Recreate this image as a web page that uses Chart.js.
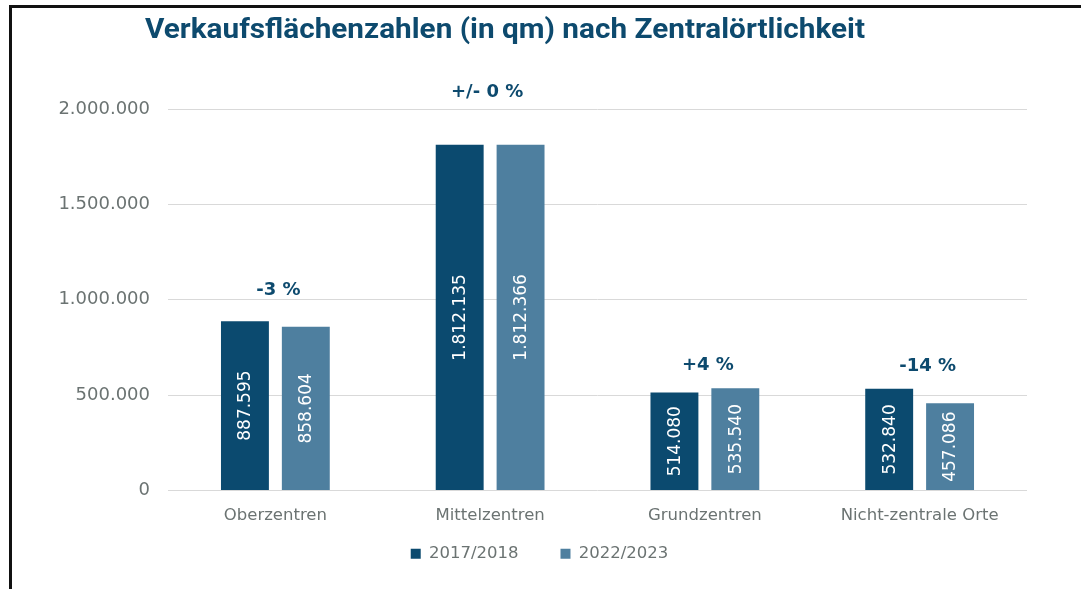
<!DOCTYPE html>
<html lang="de">
<head>
<meta charset="utf-8">
<title>Verkaufsflächenzahlen nach Zentralörtlichkeit</title>
<script src="https://cdn.jsdelivr.net/npm/chart.js@4/dist/chart.umd.min.js"></script>
<style>
  html, body { margin: 0; padding: 0; background: #fff; }
  #wrap { position: relative; width: 1081px; height: 589px; }
  #frame {
    position: absolute; left: 9px; top: 5px; right: 0; bottom: -10px;
    border-left: 3px solid #111; border-top: 3px solid #111;
    pointer-events: none;
  }
</style>
</head>
<body>
<div id="wrap">
  <canvas id="myChart"></canvas>
  <div id="frame"></div>
</div>
<script>
const titleText = "Verkaufsflächenzahlen (in qm) nach Zentralörtlichkeit";
const categories = ["Oberzentren", "Mittelzentren", "Grundzentren", "Nicht-zentrale Orte"];
const seriesNames = ["2017/2018", "2022/2023"];
const values2017 = [887595, 1812135, 514080, 532840];
const values2022 = [858604, 1812366, 535540, 457086];
const changeLabels = ["-3 %", "+/- 0 %", "+4 %", "-14 %"];
const yTicks = [0, 500000, 1000000, 1500000, 2000000];

const dark = "#0b4a6f";
const light = "#4e7f9f";
const textBlue = "#0d4a6e";
const grey = "#6b7372";

// 1234567 -> "1.234.567"
function fmt(v) {
  return String(Math.round(v)).replace(/\B(?=(\d{3})+(?!\d))/g, ".");
}

const titlePlugin = {
  id: "sketchTitle",
  afterDraw(chart) {
    const ctx = chart.ctx;
    ctx.save();
    ctx.font = "bold 27px Roboto";
    ctx.fillStyle = textBlue;
    ctx.textBaseline = "alphabetic";
    const w = ctx.measureText(titleText).width;
    ctx.translate(145, 38);
    ctx.scale(720 / w, 1);
    ctx.fillText(titleText, 0, 0);
    ctx.restore();
  },
};

// legend sits centred on the whole canvas, not on the chart box
const legendShift = {
  id: "legendShift",
  afterLayout(chart) {
    const lg = chart.legend;
    if (!lg) return;
    lg.left += 26;
    lg.right += 26;
  },
};

const valueLabels = {
  id: "valueLabels",
  afterDatasetsDraw(chart) {
    const ctx = chart.ctx;
    ctx.save();
    ctx.font = "17px 'DejaVu Sans'";
    ctx.fillStyle = "#ffffff";
    ctx.textAlign = "center";
    ctx.textBaseline = "middle";
    chart.data.datasets.forEach((ds, di) => {
      chart.getDatasetMeta(di).data.forEach((bar, i) => {
        const mid = (bar.y + bar.base) / 2;
        ctx.save();
        ctx.translate(bar.x, mid);
        ctx.rotate(-Math.PI / 2);
        ctx.fillText(fmt(ds.data[i]), 0, 1);
        ctx.restore();
      });
    });
    ctx.restore();
  },
};

const changePlugin = {
  id: "changeLabels",
  afterDatasetsDraw(chart, args, opts) {
    const ctx = chart.ctx;
    const xs = chart.scales.x;
    const m0 = chart.getDatasetMeta(0).data;
    const m1 = chart.getDatasetMeta(1).data;
    ctx.save();
    ctx.font = "bold 18px 'DejaVu Sans'";
    ctx.fillStyle = textBlue;
    ctx.textAlign = "center";
    ctx.textBaseline = "middle";
    changeLabels.forEach((t, i) => {
      const top = Math.min(m0[i].y, m1[i].y);
      ctx.fillText(t, xs.getPixelForValue(i) + opts.dx[i], top - opts.offsets[i]);
    });
    ctx.restore();
  },
};

new Chart(document.getElementById("myChart"), {
  type: "bar",
  data: {
    labels: categories,
    datasets: [
      { label: seriesNames[0], data: values2017, backgroundColor: dark },
      { label: seriesNames[1], data: values2022, backgroundColor: light },
    ],
  },
  options: {
    responsive: true,
    maintainAspectRatio: false,
    animation: false,
    barPercentage: 0.787,
    categoryPercentage: 0.567,
    layout: { padding: { left: 0, right: 54, top: 109, bottom: 17 } },
    scales: {
      x: {
        grid: { display: false },
        border: { display: false },
        ticks: { color: grey, font: { family: "DejaVu Sans", size: 16.5 }, padding: 7 },
        afterFit(s) { s.height = 34; },
      },
      y: {
        min: 0,
        max: 2000000,
        afterBuildTicks(s) { s.ticks = yTicks.map((v) => ({ value: v })); },
        grid: { color: "#d9d9d9", drawTicks: false },
        border: { display: false },
        ticks: {
          color: grey,
          font: { family: "DejaVu Sans", size: 18 },
          padding: 18,
          callback: (v) => fmt(v),
        },
        afterFit(s) { s.width = 168; },
      },
    },
    plugins: {
      legend: {
        position: "bottom",
        labels: {
          color: grey,
          font: { family: "DejaVu Sans", size: 16.5 },
          boxWidth: 10,
          boxHeight: 10,
          padding: 21,
          // extra gap between the two entries
          generateLabels(chart) {
            const items = Chart.defaults.plugins.legend.labels.generateLabels(chart);
            items.forEach((it, i) => {
              if (i < items.length - 1) it.text += "\u00a0\u00a0\u00a0\u00a0";
            });
            return items;
          },
        },
      },
      tooltip: { enabled: false },
      changeLabels: { offsets: [31, 52, 23, 23], dx: [3, -3, 3, 8] },
    },
  },
  plugins: [titlePlugin, legendShift, valueLabels, changePlugin],
});
</script>
</body>
</html>
